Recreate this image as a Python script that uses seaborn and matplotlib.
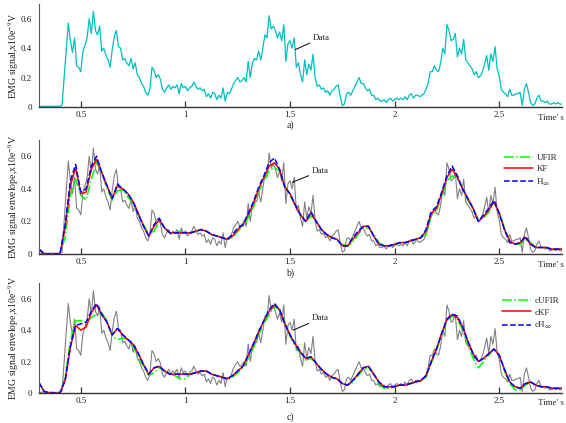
import numpy as np
import pandas as pd
import matplotlib
matplotlib.use('Agg')
import matplotlib.pyplot as plt
import seaborn as sns

# ---------------- data ----------------
# raw EMG signal, sampled every 0.01 s from 0.30 s to 2.80 s (x10e-9 V)
emg = [
    0.005, 0.004, 0.006, 0.005, 0.004, 0.005, 0.006, 0.005, 0.004, 0.005,
    0.006, 0.01, 0.20, 0.40, 0.57, 0.45, 0.37, 0.47, 0.28, 0.27,
    0.24, 0.38, 0.42, 0.47, 0.60, 0.50, 0.65, 0.52, 0.49, 0.55,
    0.38, 0.40, 0.35, 0.32, 0.27, 0.39, 0.48, 0.52, 0.41, 0.40,
    0.32, 0.33, 0.30, 0.28, 0.33, 0.26, 0.30, 0.22, 0.20, 0.16,
    0.14, 0.10, 0.08, 0.12, 0.27, 0.25, 0.20, 0.22, 0.19, 0.12,
    0.10, 0.13, 0.15, 0.12, 0.14, 0.13, 0.15, 0.09, 0.16, 0.13,
    0.14, 0.11, 0.13, 0.14, 0.17, 0.14, 0.12, 0.13, 0.11, 0.12,
    0.07, 0.09, 0.06, 0.10, 0.09, 0.05, 0.08, 0.06, 0.13, 0.04,
    0.10, 0.09, 0.12, 0.16, 0.18, 0.20, 0.17, 0.18, 0.20, 0.17,
    0.31, 0.20, 0.30, 0.33, 0.32, 0.38, 0.32, 0.40, 0.49, 0.47,
    0.62, 0.53, 0.55, 0.52, 0.47, 0.51, 0.45, 0.56, 0.31, 0.43,
    0.45, 0.40, 0.47, 0.27, 0.30, 0.22, 0.17, 0.32, 0.22, 0.29,
    0.25, 0.36, 0.20, 0.14, 0.15, 0.12, 0.13, 0.10, 0.11, 0.08,
    0.11, 0.12, 0.14, 0.15, 0.07, 0.01, 0.02, 0.09, 0.10, 0.08,
    0.11, 0.14, 0.17, 0.20, 0.16, 0.16, 0.13, 0.11, 0.12, 0.08,
    0.08, 0.05, 0.06, 0.04, 0.04, 0.05, 0.03, 0.05, 0.06, 0.04,
    0.05, 0.06, 0.05, 0.06, 0.05, 0.07, 0.05, 0.08, 0.09, 0.06,
    0.08, 0.08, 0.07, 0.08, 0.09, 0.12, 0.16, 0.24, 0.24, 0.28,
    0.25, 0.24, 0.30, 0.40, 0.36, 0.56, 0.52, 0.45, 0.46, 0.50,
    0.34, 0.40, 0.36, 0.46, 0.32, 0.30, 0.28, 0.26, 0.22, 0.24,
    0.20, 0.21, 0.24, 0.29, 0.35, 0.25, 0.36, 0.31, 0.41, 0.26,
    0.21, 0.12, 0.10, 0.09, 0.07, 0.12, 0.08, 0.08, 0.09, 0.09,
    0.10, 0.01, 0.12, 0.16, 0.10, 0.03, 0.01, 0.02, 0.06, 0.08,
    0.04, 0.04, 0.03, 0.04, 0.02, 0.02, 0.03, 0.02, 0.03, 0.02,
    0.02,
]
assert len(emg) == 251

# envelopes, sampled every 0.025 s from 0.30 s to 2.80 s
hinf_b = [
    0.03, 0.00, 0.00, 0.00, 0.00, 0.18, 0.45, 0.55, 0.38, 0.40,
    0.54, 0.60, 0.50, 0.42, 0.34, 0.43, 0.40, 0.37, 0.32, 0.24,
    0.17, 0.11, 0.18, 0.22, 0.16, 0.13, 0.13, 0.13, 0.13, 0.13,
    0.14, 0.15, 0.14, 0.12, 0.11, 0.10, 0.09, 0.12, 0.16, 0.18,
    0.25, 0.32, 0.41, 0.48, 0.56, 0.59, 0.52, 0.41, 0.37, 0.30,
    0.24, 0.20, 0.26, 0.20, 0.15, 0.12, 0.10, 0.09, 0.05, 0.05,
    0.10, 0.14, 0.17, 0.17, 0.11, 0.06, 0.05, 0.05, 0.06, 0.07,
    0.07, 0.08, 0.09, 0.10, 0.15, 0.26, 0.29, 0.38, 0.48, 0.54,
    0.48, 0.40, 0.34, 0.28, 0.20, 0.24, 0.28, 0.33, 0.25, 0.15,
    0.07, 0.06, 0.07, 0.11, 0.06, 0.04, 0.04, 0.04, 0.03, 0.03, 0.03,
]
kf_b = [
    0.03, 0.00, 0.00, 0.00, 0.00, 0.16, 0.42, 0.53, 0.37, 0.38,
    0.52, 0.58, 0.50, 0.42, 0.34, 0.42, 0.40, 0.37, 0.32, 0.25,
    0.17, 0.11, 0.17, 0.21, 0.16, 0.13, 0.13, 0.13, 0.13, 0.13,
    0.14, 0.15, 0.14, 0.12, 0.11, 0.10, 0.09, 0.11, 0.15, 0.18,
    0.24, 0.31, 0.40, 0.47, 0.54, 0.56, 0.52, 0.41, 0.37, 0.30,
    0.24, 0.20, 0.25, 0.20, 0.15, 0.12, 0.10, 0.09, 0.05, 0.05,
    0.09, 0.13, 0.17, 0.17, 0.11, 0.06, 0.05, 0.05, 0.06, 0.07,
    0.07, 0.08, 0.09, 0.10, 0.14, 0.25, 0.28, 0.37, 0.47, 0.52,
    0.47, 0.40, 0.34, 0.28, 0.20, 0.23, 0.27, 0.32, 0.25, 0.15,
    0.08, 0.06, 0.07, 0.10, 0.06, 0.04, 0.04, 0.04, 0.03, 0.03, 0.03,
]
ufir_b = [
    0.03, 0.00, 0.00, 0.00, 0.00, 0.10, 0.36, 0.46, 0.36, 0.33,
    0.46, 0.56, 0.50, 0.40, 0.33, 0.39, 0.39, 0.35, 0.31, 0.24,
    0.18, 0.12, 0.14, 0.20, 0.16, 0.13, 0.13, 0.14, 0.14, 0.13,
    0.14, 0.15, 0.14, 0.12, 0.11, 0.10, 0.09, 0.10, 0.14, 0.17,
    0.22, 0.29, 0.38, 0.45, 0.51, 0.53, 0.51, 0.42, 0.36, 0.30,
    0.24, 0.20, 0.23, 0.21, 0.15, 0.12, 0.10, 0.09, 0.06, 0.05,
    0.07, 0.12, 0.16, 0.16, 0.12, 0.07, 0.05, 0.05, 0.06, 0.07,
    0.07, 0.08, 0.09, 0.10, 0.12, 0.23, 0.27, 0.35, 0.45, 0.48,
    0.46, 0.40, 0.33, 0.28, 0.21, 0.22, 0.26, 0.31, 0.26, 0.16,
    0.08, 0.06, 0.06, 0.09, 0.07, 0.04, 0.04, 0.04, 0.03, 0.03, 0.03,
]
hinf_c = [
    0.065, 0.01, 0.00, 0.00, 0.00, 0.08, 0.30, 0.43, 0.44, 0.45,
    0.52, 0.57, 0.50, 0.45, 0.37, 0.41, 0.37, 0.34, 0.31, 0.25,
    0.18, 0.12, 0.16, 0.17, 0.14, 0.12, 0.12, 0.12, 0.12, 0.12,
    0.13, 0.14, 0.14, 0.12, 0.11, 0.10, 0.09, 0.11, 0.14, 0.17,
    0.24, 0.31, 0.39, 0.46, 0.53, 0.57, 0.53, 0.44, 0.37, 0.31,
    0.26, 0.22, 0.23, 0.19, 0.15, 0.12, 0.10, 0.09, 0.06, 0.05,
    0.08, 0.12, 0.16, 0.17, 0.12, 0.07, 0.04, 0.04, 0.04, 0.05,
    0.05, 0.06, 0.07, 0.08, 0.11, 0.20, 0.28, 0.38, 0.47, 0.50,
    0.49, 0.42, 0.33, 0.25, 0.20, 0.22, 0.25, 0.28, 0.24, 0.15,
    0.07, 0.04, 0.03, 0.06, 0.07, 0.05, 0.04, 0.04, 0.03, 0.03, 0.03,
]
kf_c = [
    0.065, 0.01, 0.00, 0.00, 0.00, 0.08, 0.29, 0.43, 0.40, 0.42,
    0.51, 0.56, 0.50, 0.45, 0.37, 0.41, 0.37, 0.34, 0.31, 0.25,
    0.18, 0.12, 0.16, 0.17, 0.14, 0.12, 0.12, 0.12, 0.12, 0.12,
    0.13, 0.14, 0.14, 0.12, 0.11, 0.10, 0.09, 0.11, 0.14, 0.17,
    0.24, 0.31, 0.39, 0.46, 0.52, 0.56, 0.53, 0.44, 0.37, 0.31,
    0.26, 0.22, 0.23, 0.19, 0.15, 0.12, 0.10, 0.09, 0.06, 0.05,
    0.08, 0.12, 0.16, 0.17, 0.12, 0.07, 0.04, 0.04, 0.04, 0.05,
    0.05, 0.06, 0.07, 0.08, 0.11, 0.20, 0.28, 0.38, 0.47, 0.50,
    0.48, 0.42, 0.33, 0.25, 0.20, 0.22, 0.25, 0.28, 0.24, 0.15,
    0.07, 0.04, 0.03, 0.06, 0.07, 0.05, 0.04, 0.04, 0.03, 0.03, 0.03,
]
ufir_c = [
    0.065, 0.01, 0.00, 0.00, 0.00, 0.10, 0.33, 0.46, 0.46, 0.45,
    0.48, 0.50, 0.51, 0.46, 0.36, 0.34, 0.35, 0.34, 0.30, 0.22,
    0.17, 0.11, 0.13, 0.16, 0.14, 0.12, 0.11, 0.09, 0.09, 0.12,
    0.13, 0.14, 0.14, 0.12, 0.11, 0.10, 0.09, 0.10, 0.13, 0.16,
    0.22, 0.29, 0.37, 0.44, 0.50, 0.55, 0.53, 0.45, 0.36, 0.30,
    0.25, 0.21, 0.22, 0.19, 0.15, 0.12, 0.10, 0.09, 0.06, 0.05,
    0.07, 0.11, 0.15, 0.16, 0.12, 0.06, 0.03, 0.03, 0.04, 0.05,
    0.05, 0.06, 0.07, 0.08, 0.10, 0.19, 0.27, 0.37, 0.46, 0.49,
    0.47, 0.40, 0.31, 0.22, 0.16, 0.20, 0.24, 0.28, 0.24, 0.14,
    0.06, 0.02, 0.02, 0.05, 0.07, 0.05, 0.04, 0.04, 0.03, 0.03, 0.03,
]
for arr in (hinf_b, kf_b, ufir_b, hinf_c, kf_c, ufir_c):
    assert len(arr) == 101

t_raw = np.round(np.linspace(0.30, 2.80, len(emg)), 3)
t_env = np.round(np.linspace(0.30, 2.80, len(hinf_b)), 3)

xticks = [0.5, 1, 1.5, 2, 2.5]
xticklabels = ["0.5", "1", "1.5", "2", "2.5"]
yticks = [0, 0.2, 0.4, 0.6]
yticklabels = ["0", "0.2", "0.4", "0.6"]
legend_b = ["UFIR", "KF", r"H$_\infty$"]
legend_c = ["cUFIR", "cKF", r"cH$_\infty$"]

# ---------------- style ----------------
sns.set_theme(style="white")
plt.rcParams['font.family'] = ['Liberation Serif', 'DejaVu Serif']
plt.rcParams['mathtext.fontset'] = 'stix'

W, H = 566, 423
fig = plt.figure(figsize=(W / 100, H / 100), dpi=100)

def px_axes(left, right, top, bottom):
    return fig.add_axes([left / W, 1 - bottom / H, (right - left) / W, (bottom - top) / H])

ax_a = px_axes(39, 562, 4, 107)
ax_b = px_axes(39, 562, 140, 254)
ax_c = px_axes(39, 562, 283, 393)

C_CYAN = (0.0, 0.75, 0.75)
C_GRAY = (0.5, 0.5, 0.5)
C_GREEN = (0.0, 1.0, 0.0)
C_RED = (1.0, 0.0, 0.0)
C_BLUE = (0.0, 0.0, 1.0)

def style_axes(ax, ylabel):
    ax.set_xlim(0.30, 2.80)
    ax.set_ylim(0, 0.70)
    ax.set_xticks(xticks)
    ax.set_xticklabels(xticklabels)
    ax.set_yticks(yticks)
    ax.set_yticklabels(yticklabels)
    for s in ("top", "right"):
        ax.spines[s].set_visible(False)
    ax.spines["left"].set_color("#555555")
    ax.spines["left"].set_linewidth(0.8)
    ax.spines["bottom"].set_color("#333333")
    ax.spines["bottom"].set_linewidth(1.0)
    ax.tick_params(axis="x", direction="in", length=4, width=0.9, color="#333333",
                   labelsize=6.5, pad=3, labelcolor="#222222", bottom=True)
    ax.tick_params(axis="y", length=0, labelsize=6.5, pad=5, labelcolor="#222222", left=True)
    ax.set_xlabel("")
    ax.set_ylabel(ylabel, fontsize=7, color="#222222", va="center")
    ax.yaxis.set_label_coords(-0.048, 0.5)
    ax.grid(False)

# panel a
sns.lineplot(x=t_raw, y=emg, ax=ax_a, color=C_CYAN, linewidth=0.9, legend=False)
style_axes(ax_a, r"EMG signal,x10e$^{-9}$V")
ax_a.annotate("Data", xy=(1.525, 0.39), xytext=(1.61, 0.47), fontsize=6.5,
              va="center", ha="left",
              arrowprops=dict(arrowstyle="-", color="black", lw=0.7, shrinkA=0, shrinkB=0))

# panel b
sns.lineplot(x=t_raw, y=emg, ax=ax_b, color=C_GRAY, linewidth=0.8, legend=False)
sns.lineplot(x=t_env, y=ufir_b, ax=ax_b, color=C_GREEN, linewidth=1.1, linestyle="-.", label=legend_b[0])
sns.lineplot(x=t_env, y=kf_b, ax=ax_b, color=C_RED, linewidth=1.1, linestyle="-", label=legend_b[1])
sns.lineplot(x=t_env, y=hinf_b, ax=ax_b, color=C_BLUE, linewidth=1.1, linestyle="--", label=legend_b[2])
style_axes(ax_b, r"EMG signal envelope,x10e$^{-9}$V")
ax_b.annotate("Data", xy=(1.51, 0.44), xytext=(1.605, 0.51), fontsize=6.5,
              va="center", ha="left",
              arrowprops=dict(arrowstyle="-", color="black", lw=0.7, shrinkA=0, shrinkB=0))
ax_b.legend(loc="upper left", bbox_to_anchor=(0.889, 0.88), frameon=False, fontsize=6.5,
            handlelength=3.2, handletextpad=0.4, labelspacing=0.35, borderpad=0, borderaxespad=0)

# panel c
sns.lineplot(x=t_raw, y=emg, ax=ax_c, color=C_GRAY, linewidth=0.8, legend=False)
sns.lineplot(x=t_env, y=ufir_c, ax=ax_c, color=C_GREEN, linewidth=1.1, linestyle="-.", label=legend_c[0])
sns.lineplot(x=t_env, y=kf_c, ax=ax_c, color=C_RED, linewidth=1.1, linestyle="-", label=legend_c[1])
sns.lineplot(x=t_env, y=hinf_c, ax=ax_c, color=C_BLUE, linewidth=1.1, linestyle="--", label=legend_c[2])
style_axes(ax_c, r"EMG signal envelope,x10e$^{-9}$V")
ax_c.annotate("Data", xy=(1.515, 0.40), xytext=(1.605, 0.475), fontsize=6.5,
              va="center", ha="left",
              arrowprops=dict(arrowstyle="-", color="black", lw=0.7, shrinkA=0, shrinkB=0))
ax_c.legend(loc="upper left", bbox_to_anchor=(0.885, 0.875), frameon=False, fontsize=6.5,
            handlelength=3.2, handletextpad=0.4, labelspacing=0.35, borderpad=0, borderaxespad=0)

# time labels and panel letters
for ypx in (118, 265, 403):
    fig.text(538 / W, 1 - ypx / H, "Time' s", fontsize=6.5, va="center", ha="left", color="#222222")
for letter, ypx in (("a)", 125), ("b)", 273), ("c)", 417)):
    fig.text(290 / W, 1 - ypx / H, letter, fontsize=7, va="center", ha="center", color="#222222")

fig.savefig("out.png", dpi=100)
